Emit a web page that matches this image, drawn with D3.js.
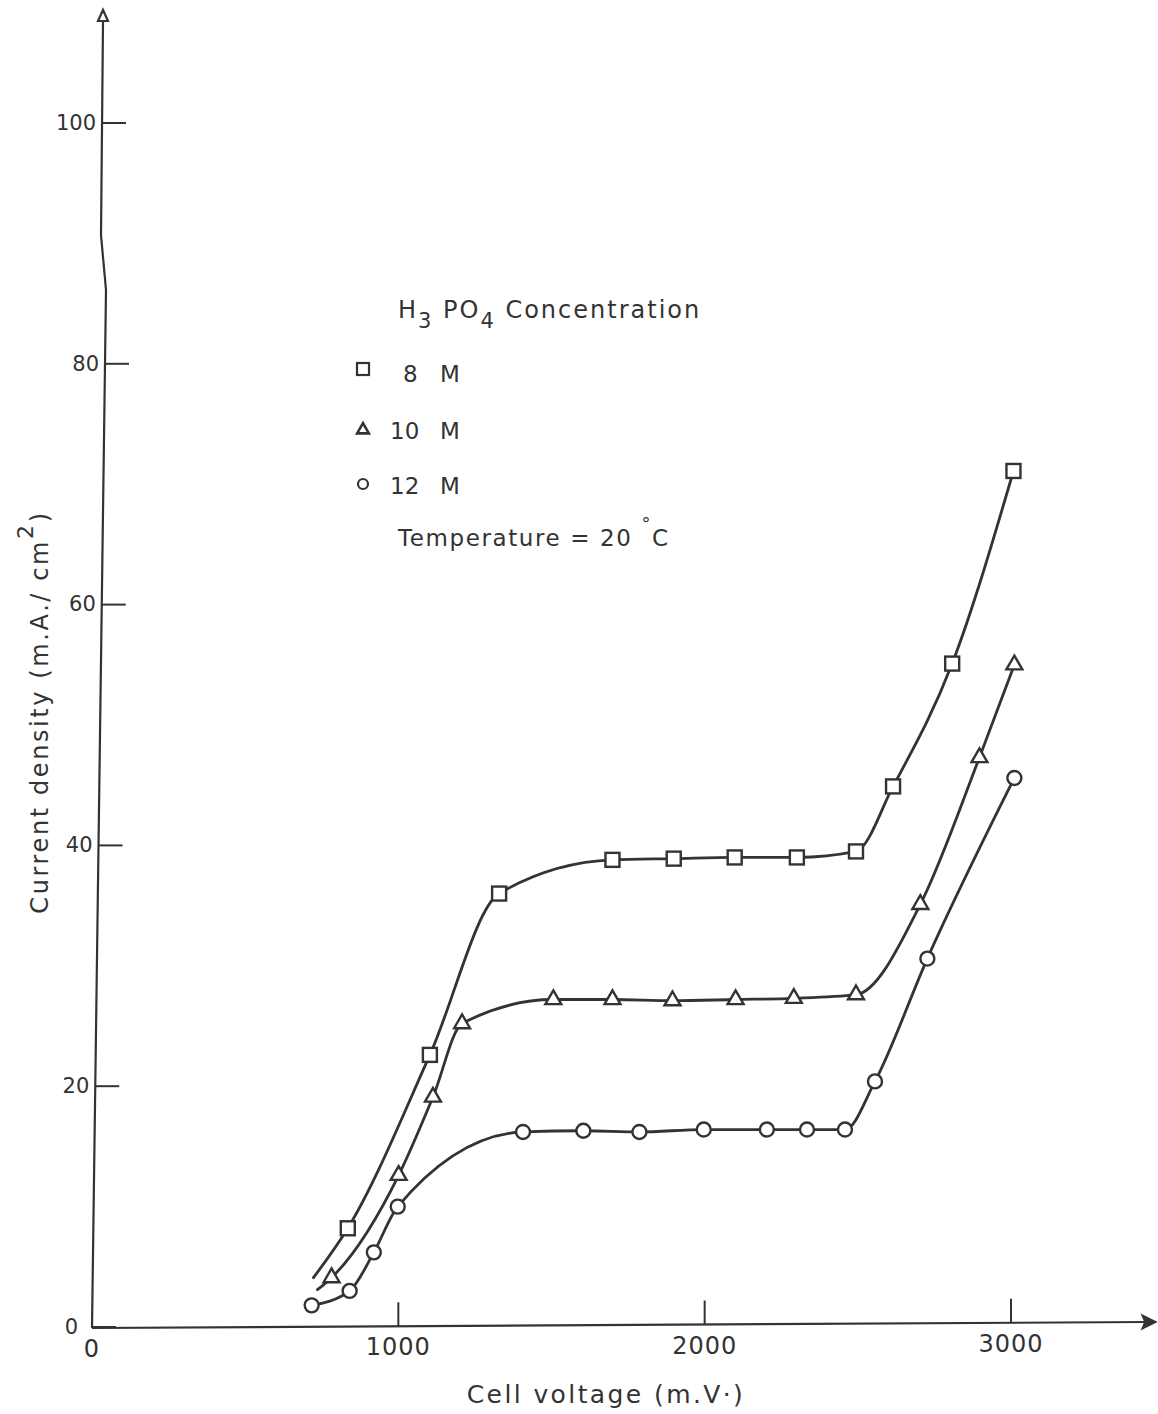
<!DOCTYPE html>
<html>
<head>
<meta charset="utf-8">
<script src="https://cdn.jsdelivr.net/npm/d3@7"></script>
<style>
  html, body { margin: 0; padding: 0; background: #fff; }
  svg { display: block; }
  text { font-family: "DejaVu Sans", sans-serif; fill: #333; }
</style>
</head>
<body>
<script>
// ---------- data ----------
const xTicks = [0, 1000, 2000, 3000];
const yTicks = [0, 20, 40, 60, 80, 100];

// 8 M  (squares)
const sqVoltage = [835, 1103, 1329, 1699, 1899, 2098, 2301, 2494, 2615, 2808, 3008];
const sqCurrent = [8.2, 22.6, 36.0, 38.8, 38.9, 39.0, 39.0, 39.5, 44.9, 55.1, 71.1];
const sqLineStart = [723, 4.1];

// 10 M (triangles)
const trVoltage = [782, 1001, 1113, 1208, 1506, 1699, 1895, 2101, 2291, 2494, 2704, 2897, 3011];
const trCurrent = [4.1, 12.6, 19.1, 25.2, 27.2, 27.2, 27.1, 27.2, 27.3, 27.6, 35.1, 47.3, 55.0];
const trLineStart = [736, 3.1];

// 12 M (circles)
const ciVoltage = [717, 841, 920, 998, 1407, 1604, 1787, 1997, 2203, 2334, 2458, 2556, 2727, 3011];
const ciCurrent = [1.8, 3.0, 6.2, 10.0, 16.2, 16.3, 16.2, 16.4, 16.4, 16.4, 16.4, 20.4, 30.6, 45.6];

const seriesNumbers = ["8", "10", "12"];

// ---------- layout ----------
const W = 1158, H = 1414;
const svg = d3.select("body").append("svg").attr("width", W).attr("height", H);
const ink = "#333";

const x = d3.scaleLinear().domain([0, 3000]).range([92, 1011]);
const y = d3.scaleLinear().domain([0, 100]).range([1327, 123]);

// hand-drawn y-axis slight slant
function axisXAt(py) {
  if (py < 235) return 102;
  if (py < 290) return 101 + (py - 235) / 55 * 5;
  return 106 - (py - 290) / (1328 - 290) * 14;
}

// y axis line
const yAxisPts = [[103, 22], [101, 235], [106, 290], [92, 1328]];
svg.append("path")
  .attr("d", d3.line()(yAxisPts))
  .attr("fill", "none").attr("stroke", ink).attr("stroke-width", 2.2);
svg.append("path")
  .attr("d", "M103,10 L98,21 L108,21 Z")
  .attr("fill", "#fff").attr("stroke", ink).attr("stroke-width", 2.2);

// x axis line with arrow
svg.append("path")
  .attr("d", d3.line()([[92, 1328], [1148, 1322]]))
  .attr("fill", "none").attr("stroke", ink).attr("stroke-width", 2.2);
svg.append("path")
  .attr("d", "M1156,1322 L1142,1315 L1145,1322 L1142,1329 Z")
  .attr("fill", ink).attr("stroke", ink).attr("stroke-width", 1.5);

// y axis (ticks to the right, labels to the left)
const yAxis = d3.axisLeft(y).tickValues(yTicks).tickSizeInner(-24).tickSizeOuter(0).tickPadding(6);
const gy = svg.append("g").call(yAxis);
gy.select(".domain").remove();
gy.selectAll(".tick").attr("transform", d => `translate(${axisXAt(y(d))},${y(d)})`);
gy.selectAll(".tick line").attr("stroke", ink).attr("stroke-width", 2);
gy.selectAll(".tick text")
  .style("font-family", "DejaVu Sans, sans-serif")
  .style("font-size", "21px").attr("fill", ink)
  .attr("dx", d => d === 0 ? -8 : 0);

// x axis (ticks upward, labels below)
const xAxis = d3.axisBottom(x).tickValues(xTicks).tickSizeInner(-24).tickSizeOuter(0).tickPadding(12)
  .tickFormat(d3.format("d"));
const gx = svg.append("g").call(xAxis);
gx.select(".domain").remove();
gx.selectAll(".tick").attr("transform", d => `translate(${x(d)},${1328 - (x(d) - 92) * 0.0057})`);
gx.selectAll(".tick line").attr("stroke", ink).attr("stroke-width", 2).style("display", d => d === 0 ? "none" : null);
gx.selectAll(".tick text")
  .style("font-family", "DejaVu Sans, sans-serif")
  .style("font-size", "24px").style("letter-spacing", "1px").attr("fill", ink);

// ---------- curves ----------
const line = d3.line().x(d => x(d[0])).y(d => y(d[1])).curve(d3.curveMonotoneX);
const sqPts = sqVoltage.map((v, i) => [v, sqCurrent[i]]);
const trPts = trVoltage.map((v, i) => [v, trCurrent[i]]);
const ciPts = ciVoltage.map((v, i) => [v, ciCurrent[i]]);

[[sqLineStart, ...sqPts], [trLineStart, ...trPts], ciPts].forEach(pts => {
  svg.append("path").attr("d", line(pts))
    .attr("fill", "none").attr("stroke", ink).attr("stroke-width", 2.8)
    .attr("stroke-linecap", "round");
});

// markers
const mk = svg.append("g").attr("fill", "#fff").attr("stroke", ink).attr("stroke-width", 2.4);
mk.selectAll("rect.sq").data(sqPts).join("rect")
  .attr("x", d => x(d[0]) - 7).attr("y", d => y(d[1]) - 7)
  .attr("width", 14).attr("height", 14);
const tri = d3.symbol().type(d3.symbolTriangle).size(110);
mk.selectAll("path.tr").data(trPts).join("path")
  .attr("d", tri)
  .attr("transform", d => `translate(${x(d[0])},${y(d[1])})`);
mk.selectAll("circle.ci").data(ciPts).join("circle")
  .attr("cx", d => x(d[0])).attr("cy", d => y(d[1])).attr("r", 7);

// ---------- legend ----------
const lg = svg.append("g");
const t1 = lg.append("text").attr("x", 398).attr("y", 318).style("font-size", "24px").style("letter-spacing", "2px");
t1.append("tspan").text("H");
t1.append("tspan").attr("dy", 10).style("font-size", "21px").text("3");
t1.append("tspan").attr("dy", -10).text(" PO");
t1.append("tspan").attr("dy", 10).style("font-size", "21px").text("4");
t1.append("tspan").attr("dy", -10).text(" Concentration");

lg.append("rect").attr("x", 357).attr("y", 363).attr("width", 12).attr("height", 12)
  .attr("fill", "#fff").attr("stroke", ink).attr("stroke-width", 2.2);
lg.append("path").attr("d", d3.symbol().type(d3.symbolTriangle).size(60))
  .attr("transform", "translate(363,430)").attr("fill", "#fff").attr("stroke", ink).attr("stroke-width", 2.6);
lg.append("circle").attr("cx", 363).attr("cy", 484).attr("r", 5)
  .attr("fill", "#fff").attr("stroke", ink).attr("stroke-width", 2.2);

const numX = [403, 390, 390];
const rowY = [382, 439, 494];
seriesNumbers.forEach((n, i) => {
  lg.append("text").attr("x", numX[i]).attr("y", rowY[i]).style("font-size", "23px").text(n);
  lg.append("text").attr("x", 440).attr("y", rowY[i]).style("font-size", "23px").text("M");
});

const t2 = lg.append("text").attr("x", 398).attr("y", 546).style("font-size", "23px").style("letter-spacing", "1.6px");
t2.append("tspan").text("Temperature = 20 ");
t2.append("tspan").attr("dy", -16).style("font-size", "18px").text("°");
t2.append("tspan").attr("dy", 16).text("C");

// ---------- axis titles ----------
svg.append("text").attr("x", 606).attr("y", 1403).attr("text-anchor", "middle")
  .style("font-size", "25px").style("letter-spacing", "2.4px").text("Cell voltage (m.V·)");

const yt = svg.append("text").attr("transform", "translate(48,712) rotate(-90)")
  .attr("text-anchor", "middle").style("font-size", "24px").style("letter-spacing", "2.6px");
yt.append("tspan").text("Current   density (m.A./ cm");
yt.append("tspan").attr("dy", -15).style("font-size", "22px").text("2");
yt.append("tspan").attr("dy", 15).text(")");
</script>
</body>
</html>
